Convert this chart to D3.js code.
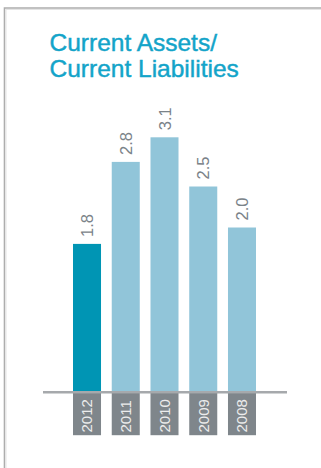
<!DOCTYPE html>
<html><head><meta charset="utf-8">
<script src="https://cdn.jsdelivr.net/npm/d3@7"></script>
<style>
html,body{margin:0;padding:0;background:#fff;}
svg{display:block;}
</style></head>
<body>
<script>
const years = ["2012","2011","2010","2009","2008"];
const values = [1.8, 2.8, 3.1, 2.5, 2.0];
const valueLabels = ["1.8","2.8","3.1","2.5","2.0"];
const titleLines = ["Current Assets/","Current Liabilities"];

const W = 321, H = 468;
const svg = d3.select("body").append("svg").attr("width", W).attr("height", H);

// frame
svg.append("path").attr("d", `M4.5,${H} L4.5,8 L${W},8`)
  .attr("fill","none").attr("stroke","#adadad").attr("stroke-width",1.6);
svg.append("path").attr("d", `M6,${H} L6,9.5 L${W},9.5`)
  .attr("fill","none").attr("stroke","#e4e4e4").attr("stroke-width",1);

// title
const font = "'Liberation Sans', Arial, Helvetica, sans-serif";
svg.append("g").selectAll("text").data(titleLines).join("text")
  .attr("x", 49.5).attr("y", (d,i) => 50.5 + i*26)
  .attr("font-family", font).attr("font-size", 24.5)
  .attr("fill", "#13a4c9").attr("stroke","#13a4c9").attr("stroke-width",0.45)
  .text(d => d);

const baseY = 391.5;
const x = d3.scaleBand().domain(years).range([73, 256]).paddingInner(0.277).paddingOuter(0);
const y = d3.scaleLinear().domain([0, 3.5]).range([baseY, baseY - 3.5*82]);

// bars
svg.append("g").selectAll("rect").data(years).join("rect")
  .attr("x", d => x(d)).attr("width", x.bandwidth())
  .attr("y", (d,i) => y(values[i])).attr("height", (d,i) => y(0) - y(values[i]))
  .attr("fill", (d,i) => i === 0 ? "#0095b4" : "#91c5d9");

// value labels
svg.append("g").selectAll("text").data(years).join("text")
  .attr("transform", (d,i) => `translate(${x(d) + x.bandwidth()/2 + 6},${y(values[i]) - 7}) rotate(-90)`)
  .attr("font-family", font).attr("font-size", 16.5)
  .attr("fill", "#7b8389")
  .text((d,i) => valueLabels[i]);

// axis line
svg.append("line").attr("x1", 43).attr("x2", 287).attr("y1", baseY + 0.8).attr("y2", baseY + 0.8)
  .attr("stroke", "#a6a9ac").attr("stroke-width", 2.6);

// year boxes
const yb = svg.append("g");
yb.selectAll("rect").data(years).join("rect")
  .attr("x", d => x(d)).attr("width", x.bandwidth())
  .attr("y", 393.2).attr("height", 42)
  .attr("fill", "#7f868b");
yb.selectAll("text").data(years).join("text")
  .attr("transform", d => `translate(${x(d) + x.bandwidth()/2 + 5.4},${432.5}) rotate(-90)`)
  .attr("font-family", font).attr("font-size", 15)
  .attr("fill", "#ececec")
  .text(d => d);
</script>
</body></html>
